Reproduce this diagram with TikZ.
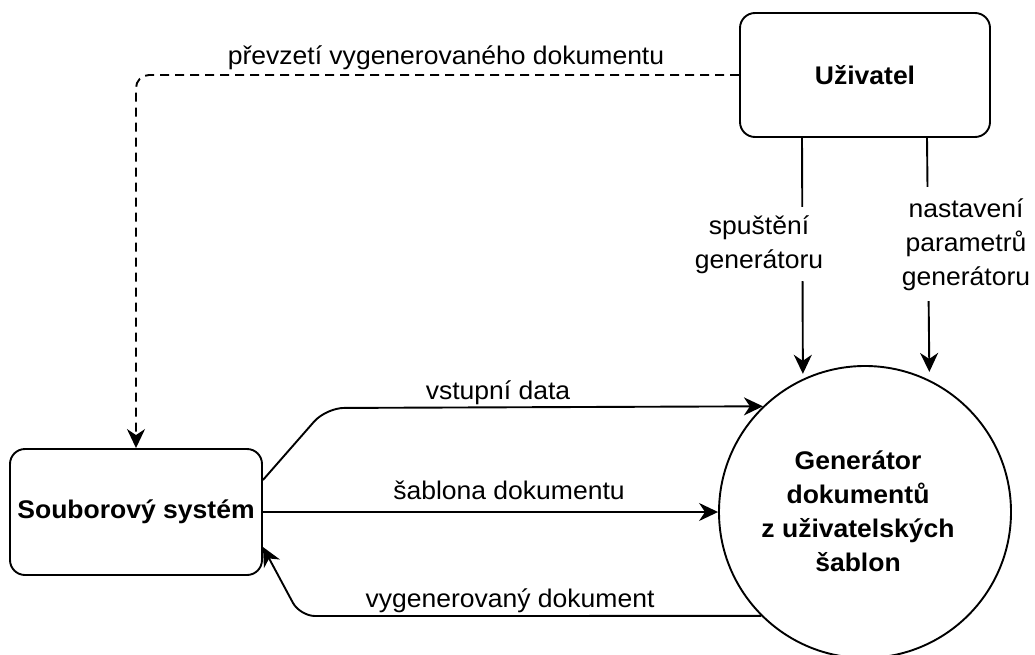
\documentclass[tikz,border=0pt]{standalone}
\usepackage{fontspec}
\setmainfont{Liberation Sans}[FakeStretch=1.04]
\usetikzlibrary{arrows.meta}
\newcommand{\mlines}[1]{\begin{tabular}[b]{@{}c@{}}#1\end{tabular}}
\begin{document}
\begin{tikzpicture}[x=1pt,y=-1pt,
  every node/.style={font=\fontsize{25.5}{34}\selectfont},
  boxnode/.style={draw, line width=1.9pt, rounded corners=15pt, font=\fontsize{25.5}{34}\selectfont\bfseries, inner sep=0pt},
  conn/.style={line width=1.9pt, -{Stealth[length=19pt,width=18pt,inset=6pt]}},
  lbl/.style={anchor=base, inner sep=0pt},
  ]
\useasboundingbox (0,0) rectangle (1035,655);

% shapes
\node[boxnode, minimum width=250pt, minimum height=124pt] (user) at (865,75) {Uživatel};
\node[boxnode, minimum width=252pt, minimum height=126pt] (fs) at (136,512) {Souborový systém};
\node[draw, circle, line width=1.9pt, minimum size=292pt, inner sep=0pt] (gen) at (865,512) {};
\node[lbl, font=\fontsize{25.5}{34}\selectfont\bfseries] (gentext) at (858,571) {\mlines{Generátor\\dokumentů\\z uživatelských\\šablon}};

% bend points
\coordinate (c1) at (326,408);
\coordinate (c2) at (136,75);
\coordinate (c3) at (300,616);

% connectors
\draw[conn, dash pattern=on 9pt off 6pt, rounded corners=13pt] (user.west) -- (c2) -- (fs.north);
\draw[conn, rounded corners=18pt] ([yshift=32pt]fs.east) -- (c1) -- (gen.134.6);
\draw[conn] (fs.east) -- (gen.west);
\draw[conn, rounded corners=15pt] (gen.225.4) -- (c3) -- ([yshift=-35pt]fs.east);
\draw[conn, shorten >=5pt] ([xshift=-63pt]user.south) -- (gen.115.6);
\draw[conn, shorten >=8pt] ([xshift=62pt]user.south) -- (gen.64.9);

% labels
\node[lbl] (lpre) at (446,65) {převzetí vygenerovaného dokumentu};
\node[lbl] (lvst) at (498,399) {vstupní data};
\node[lbl] (lsab) at (509,499) {šablona dokumentu};
\node[lbl] (lvyg) at (510,607) {vygenerovaný dokument};
\node[lbl, fill=white, inner xsep=2pt, inner ysep=3pt] (lspu) at (759,268) {\mlines{spuštění\\generátoru}};
\node[lbl, fill=white, inner xsep=2pt, inner ysep=6pt] (lnas) at (966,285) {\mlines{nastavení\\parametrů\\generátoru}};
\end{tikzpicture}
\end{document}
